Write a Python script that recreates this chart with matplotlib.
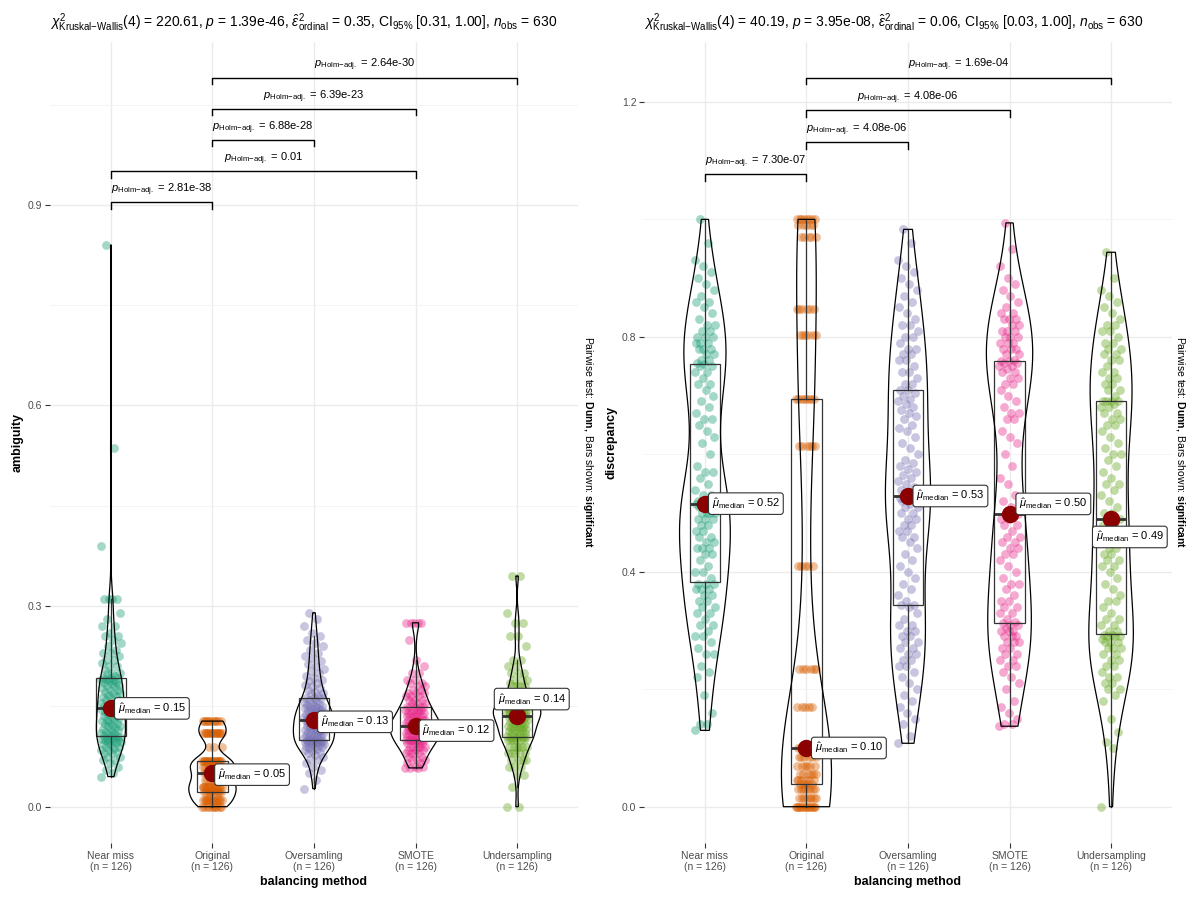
import numpy as np
import matplotlib
matplotlib.use("Agg")
import matplotlib.pyplot as plt
from matplotlib.ticker import AutoMinorLocator

plt.rcParams["font.family"] = "Liberation Sans"
plt.rcParams["mathtext.fontset"] = "custom"
plt.rcParams["mathtext.rm"] = "Liberation Sans"
plt.rcParams["mathtext.it"] = "Liberation Sans:italic"
plt.rcParams["mathtext.bf"] = "Liberation Sans:bold"

methods = ["Near miss", "Original", "Oversamling", "SMOTE", "Undersampling"]
colors = ["#1B9E77", "#D95F02", "#7570B3", "#E7298A", "#66A61E"]

# ---- ambiguity (left panel) ----
amb_nearmiss = [
    0.045, 0.05, 0.055, 0.06, 0.065, 0.07, 0.07, 0.075, 0.075, 0.08, 0.08, 0.082, 0.085, 0.085, 0.088, 0.09,
    0.09, 0.092, 0.094, 0.095, 0.096, 0.097, 0.098, 0.099, 0.1, 0.1, 0.101, 0.102, 0.103, 0.104, 0.105, 0.105,
    0.106, 0.108, 0.11, 0.11, 0.112, 0.114, 0.115, 0.116, 0.118, 0.12, 0.12, 0.122, 0.124, 0.125, 0.126, 0.128,
    0.13, 0.13, 0.132, 0.134, 0.135, 0.136, 0.138, 0.14, 0.14, 0.142, 0.143, 0.144, 0.145, 0.146, 0.147,
    0.147, 0.148, 0.15, 0.152, 0.154, 0.155, 0.157, 0.16, 0.16, 0.162, 0.164, 0.165, 0.167, 0.17, 0.17, 0.172,
    0.174, 0.175, 0.177, 0.18, 0.18, 0.182, 0.184, 0.185, 0.186, 0.188, 0.19, 0.19, 0.191, 0.192, 0.193,
    0.193, 0.195, 0.198, 0.2, 0.2, 0.205, 0.21, 0.21, 0.215, 0.22, 0.22, 0.225, 0.23, 0.23, 0.235, 0.24,
    0.245, 0.25, 0.255, 0.255, 0.26, 0.27, 0.27, 0.28, 0.29, 0.31, 0.31, 0.31, 0.31, 0.39, 0.537, 0.84]
amb_original = [
    0.0, 0.0, 0.0, 0.0, 0.0, 0.0, 0.0, 0.0, 0.0, 0.0,
    0.01, 0.01, 0.01, 0.01, 0.01, 0.01, 0.01, 0.01, 0.01, 0.01, 0.01, 0.01, 0.01, 0.01,
    0.022, 0.022, 0.022, 0.022, 0.022, 0.022, 0.022, 0.022, 0.022, 0.022,
    0.03, 0.03, 0.03, 0.03, 0.03, 0.03, 0.03, 0.03, 0.03, 0.03, 0.03, 0.03, 0.03, 0.03, 0.03, 0.03,
    0.04, 0.04, 0.04, 0.04, 0.04, 0.04, 0.04, 0.04,
    0.05, 0.05, 0.05, 0.05, 0.05, 0.05, 0.05, 0.05, 0.05, 0.05,
    0.06, 0.06, 0.06, 0.06, 0.06, 0.06, 0.06, 0.06, 0.06, 0.06,
    0.068, 0.068, 0.068, 0.068, 0.068, 0.068, 0.068, 0.068, 0.068, 0.068, 0.068, 0.068, 0.068, 0.068,
    0.068, 0.068, 0.068, 0.068,
    0.09, 0.09, 0.09,
    0.11, 0.11, 0.11, 0.11, 0.11, 0.11, 0.11, 0.11, 0.11, 0.11, 0.11, 0.11, 0.11, 0.11, 0.11, 0.11,
    0.128, 0.128, 0.128, 0.128, 0.128, 0.128, 0.128, 0.128, 0.128, 0.128, 0.128]
amb_oversampling = [
    0.027, 0.04, 0.05, 0.055, 0.06, 0.065, 0.07, 0.072, 0.075, 0.078, 0.08, 0.082, 0.084, 0.085, 0.086, 0.088,
    0.09, 0.09, 0.091, 0.092, 0.093, 0.094, 0.095, 0.095, 0.096, 0.096, 0.097, 0.097, 0.098, 0.098, 0.099, 0.099,
    0.1, 0.101, 0.102, 0.103, 0.104, 0.105, 0.106, 0.107, 0.108, 0.109, 0.11, 0.111, 0.112, 0.113, 0.114, 0.115,
    0.116, 0.117, 0.118, 0.119, 0.12, 0.121, 0.122, 0.123, 0.124, 0.125, 0.126, 0.127, 0.128, 0.129, 0.129,
    0.129, 0.13, 0.131, 0.132, 0.133, 0.134, 0.135, 0.136, 0.137, 0.138, 0.139, 0.14, 0.141, 0.142, 0.143, 0.144,
    0.145, 0.146, 0.147, 0.148, 0.149, 0.15, 0.151, 0.152, 0.154, 0.155, 0.157, 0.158, 0.16, 0.162, 0.163,
    0.163, 0.165, 0.168, 0.17, 0.172, 0.175, 0.178, 0.18, 0.182, 0.185, 0.188, 0.19, 0.193, 0.196, 0.2, 0.203,
    0.206, 0.21, 0.214, 0.218, 0.222, 0.226, 0.23, 0.235, 0.24, 0.245, 0.25, 0.255, 0.26, 0.27, 0.28, 0.29]
amb_smote = [
    0.058, 0.058, 0.058, 0.06, 0.06, 0.065, 0.065, 0.07, 0.07, 0.07, 0.075, 0.075, 0.08, 0.08, 0.08, 0.08,
    0.085, 0.085, 0.085, 0.09, 0.09, 0.09, 0.09, 0.09, 0.095, 0.095, 0.095, 0.095, 0.099, 0.099, 0.099, 0.099,
    0.1, 0.1, 0.1, 0.1, 0.1, 0.105, 0.105, 0.105, 0.105, 0.105, 0.11, 0.11, 0.11, 0.11, 0.11, 0.11,
    0.115, 0.115, 0.115, 0.115, 0.115, 0.115, 0.12, 0.12, 0.12, 0.12, 0.12, 0.12, 0.12, 0.12, 0.12,
    0.12, 0.12, 0.12, 0.125, 0.125, 0.125, 0.125, 0.125, 0.13, 0.13, 0.13, 0.13, 0.13, 0.13,
    0.135, 0.135, 0.135, 0.135, 0.135, 0.14, 0.14, 0.14, 0.14, 0.14, 0.145, 0.145, 0.145, 0.145, 0.149, 0.149, 0.149,
    0.149, 0.149, 0.155, 0.155, 0.155, 0.16, 0.16, 0.16, 0.165, 0.165, 0.165, 0.17, 0.17, 0.17, 0.175, 0.175,
    0.18, 0.18, 0.185, 0.185, 0.19, 0.19, 0.2, 0.2, 0.21, 0.22, 0.25, 0.275, 0.275, 0.275, 0.275, 0.275]
amb_undersampling = [
    0.0, 0.0, 0.03, 0.047, 0.047, 0.06, 0.06, 0.06, 0.07, 0.07, 0.07, 0.07, 0.08, 0.08, 0.08, 0.08, 0.08,
    0.09, 0.09, 0.09, 0.09, 0.09, 0.09, 0.1, 0.1, 0.1, 0.1, 0.1, 0.1, 0.104, 0.104, 0.104, 0.104, 0.104,
    0.106, 0.108, 0.11, 0.11, 0.112, 0.113, 0.114, 0.115, 0.116, 0.117, 0.118, 0.119, 0.12, 0.121, 0.122,
    0.123, 0.124, 0.125, 0.126, 0.127, 0.128, 0.129, 0.13, 0.131, 0.132, 0.133, 0.134, 0.135, 0.136,
    0.136, 0.137, 0.138, 0.138, 0.139, 0.14, 0.14, 0.141, 0.142, 0.142, 0.143, 0.144, 0.144, 0.145, 0.146,
    0.146, 0.147, 0.148, 0.148, 0.149, 0.15, 0.15, 0.151, 0.152, 0.152, 0.153, 0.153, 0.154, 0.154, 0.155,
    0.155, 0.155,
    0.16, 0.16, 0.16, 0.165, 0.17, 0.17, 0.17, 0.17, 0.18, 0.18, 0.18, 0.18, 0.185, 0.19, 0.19, 0.19,
    0.2, 0.2, 0.2, 0.21, 0.21, 0.22, 0.22, 0.24, 0.255, 0.255, 0.275, 0.275, 0.29, 0.345, 0.345]

# ---- discrepancy (right panel) ----
dis_nearmiss = [
    0.13, 0.14, 0.14, 0.16, 0.19, 0.22, 0.23, 0.24, 0.26, 0.26, 0.27, 0.28, 0.29, 0.29, 0.3, 0.31,
    0.31, 0.32, 0.33, 0.33, 0.34, 0.34, 0.35, 0.35, 0.36, 0.36, 0.37, 0.37, 0.37, 0.38, 0.38, 0.38,
    0.39, 0.4, 0.4, 0.41, 0.42, 0.43, 0.43, 0.44, 0.44, 0.44, 0.45, 0.45, 0.46, 0.46, 0.47, 0.47,
    0.48, 0.48, 0.49, 0.49, 0.49, 0.5, 0.5, 0.5, 0.5, 0.51, 0.51, 0.51, 0.515, 0.515, 0.516,
    0.516, 0.52, 0.52, 0.53, 0.53, 0.54, 0.55, 0.56, 0.57, 0.57, 0.58, 0.6, 0.62, 0.63, 0.64, 0.65,
    0.66, 0.66, 0.67, 0.68, 0.69, 0.7, 0.71, 0.72, 0.72, 0.73, 0.74, 0.74, 0.75, 0.75, 0.753,
    0.755, 0.76, 0.76, 0.77, 0.77, 0.78, 0.78, 0.78, 0.79, 0.79, 0.79, 0.8, 0.8, 0.8, 0.81, 0.81,
    0.82, 0.82, 0.83, 0.84, 0.85, 0.86, 0.86, 0.87, 0.88, 0.89, 0.9, 0.91, 0.92, 0.93, 0.96, 1.0]
dis_original = [
    0.0, 0.0, 0.0, 0.0, 0.0, 0.0, 0.0, 0.0, 0.0, 0.0, 0.0, 0.0, 0.0, 0.0,
    0.015, 0.015, 0.015, 0.015, 0.015, 0.015, 0.015, 0.015,
    0.03, 0.03, 0.03, 0.03, 0.03, 0.03, 0.03, 0.03, 0.038, 0.038, 0.038, 0.038,
    0.045, 0.045, 0.045, 0.045, 0.045, 0.045, 0.055, 0.055, 0.055, 0.055, 0.055, 0.055,
    0.07, 0.07, 0.07, 0.07, 0.07, 0.07, 0.085, 0.085, 0.085, 0.085, 0.085, 0.085,
    0.1, 0.1, 0.1, 0.1, 0.1, 0.1, 0.1, 0.1,
    0.17, 0.17, 0.17, 0.17, 0.17, 0.235, 0.235, 0.235, 0.235, 0.235, 0.235,
    0.41, 0.41, 0.41, 0.41, 0.41, 0.614, 0.614, 0.614, 0.614, 0.614, 0.614,
    0.695, 0.695, 0.695, 0.695, 0.695, 0.695, 0.695, 0.695,
    0.803, 0.803, 0.803, 0.803, 0.803, 0.803, 0.847, 0.847, 0.847, 0.847, 0.847, 0.847,
    0.97, 0.97, 0.97, 0.97, 0.97, 0.99, 0.99, 0.99, 0.99, 0.99,
    1.0, 1.0, 1.0, 1.0, 1.0, 1.0, 1.0, 1.0]
dis_oversampling = [
    0.108, 0.12, 0.14, 0.15, 0.16, 0.17, 0.18, 0.19, 0.2, 0.21, 0.22, 0.23, 0.24, 0.24, 0.25, 0.25,
    0.26, 0.26, 0.27, 0.27, 0.28, 0.28, 0.29, 0.29, 0.3, 0.3, 0.31, 0.31, 0.32, 0.33, 0.34, 0.343,
    0.344, 0.35, 0.36, 0.37, 0.38, 0.39, 0.4, 0.41, 0.42, 0.43, 0.44, 0.45, 0.46, 0.46, 0.47, 0.47,
    0.48, 0.48, 0.49, 0.49, 0.5, 0.5, 0.51, 0.51, 0.515, 0.52, 0.52, 0.525, 0.525, 0.529, 0.529,
    0.529, 0.535, 0.54, 0.545, 0.55, 0.555, 0.56, 0.565, 0.57, 0.575, 0.58, 0.585, 0.59, 0.6, 0.61, 0.62,
    0.63, 0.64, 0.645, 0.65, 0.66, 0.665, 0.67, 0.675, 0.68, 0.685, 0.69, 0.695, 0.7, 0.705, 0.709,
    0.71, 0.72, 0.72, 0.73, 0.74, 0.74, 0.75, 0.76, 0.76, 0.77, 0.77, 0.78, 0.78, 0.79, 0.8, 0.8,
    0.81, 0.82, 0.82, 0.83, 0.84, 0.85, 0.86, 0.87, 0.88, 0.89, 0.9, 0.91, 0.92, 0.93, 0.96, 0.983]
dis_smote = [
    0.137, 0.14, 0.14, 0.15, 0.16, 0.17, 0.18, 0.2, 0.21, 0.22, 0.23, 0.24, 0.24, 0.25, 0.25, 0.26,
    0.26, 0.27, 0.27, 0.28, 0.28, 0.28, 0.29, 0.29, 0.29, 0.3, 0.3, 0.3, 0.305, 0.31, 0.31, 0.312,
    0.315, 0.32, 0.33, 0.33, 0.34, 0.34, 0.35, 0.35, 0.36, 0.37, 0.38, 0.38, 0.39, 0.4, 0.41, 0.42,
    0.43, 0.43, 0.44, 0.44, 0.45, 0.45, 0.46, 0.46, 0.47, 0.48, 0.48, 0.49, 0.49, 0.495, 0.499,
    0.499, 0.51, 0.52, 0.53, 0.55, 0.56, 0.58, 0.6, 0.62, 0.63, 0.64, 0.66, 0.66, 0.67, 0.67, 0.68,
    0.69, 0.7, 0.71, 0.72, 0.72, 0.73, 0.73, 0.74, 0.74, 0.745, 0.75, 0.75, 0.755, 0.755, 0.759,
    0.759, 0.76, 0.77, 0.77, 0.78, 0.78, 0.78, 0.79, 0.79, 0.79, 0.8, 0.8, 0.8, 0.81, 0.81, 0.81,
    0.82, 0.82, 0.83, 0.83, 0.83, 0.84, 0.84, 0.85, 0.86, 0.87, 0.88, 0.89, 0.9, 0.92, 0.95, 0.994]
dis_undersampling = [
    0.0, 0.1, 0.11, 0.127, 0.15, 0.18, 0.19, 0.2, 0.2, 0.21, 0.21, 0.22, 0.22, 0.23, 0.24, 0.24,
    0.25, 0.25, 0.26, 0.26, 0.27, 0.27, 0.27, 0.28, 0.28, 0.28, 0.285, 0.29, 0.29, 0.29, 0.293, 0.293,
    0.3, 0.3, 0.31, 0.31, 0.32, 0.32, 0.33, 0.34, 0.35, 0.35, 0.36, 0.37, 0.38, 0.39, 0.4, 0.41,
    0.41, 0.42, 0.42, 0.43, 0.43, 0.44, 0.44, 0.45, 0.46, 0.46, 0.47, 0.47, 0.48, 0.485, 0.49,
    0.49, 0.5, 0.5, 0.51, 0.52, 0.53, 0.54, 0.55, 0.55, 0.56, 0.57, 0.58, 0.59, 0.6, 0.6, 0.61,
    0.62, 0.63, 0.64, 0.65, 0.65, 0.66, 0.66, 0.67, 0.67, 0.68, 0.68, 0.685, 0.69, 0.69, 0.691,
    0.691, 0.7, 0.71, 0.71, 0.72, 0.72, 0.73, 0.73, 0.74, 0.74, 0.75, 0.76, 0.76, 0.77, 0.77, 0.78,
    0.78, 0.79, 0.79, 0.8, 0.81, 0.81, 0.82, 0.82, 0.83, 0.84, 0.85, 0.86, 0.87, 0.88, 0.9, 0.944]

ambiguity = [amb_nearmiss, amb_original, amb_oversampling, amb_smote, amb_undersampling]
discrepancy = [dis_nearmiss, dis_original, dis_oversampling, dis_smote, dis_undersampling]

amb_title = (r"$\chi^2_{\mathrm{Kruskal{-}Wallis}}$(4) = 220.61, $p$ = 1.39e-46, "
             r"$\hat{\varepsilon}^2_{\mathrm{ordinal}}$ = 0.35, CI$_{95\%}$ [0.31, 1.00], $n_{\mathrm{obs}}$ = 630")
dis_title = (r"$\chi^2_{\mathrm{Kruskal{-}Wallis}}$(4) = 40.19, $p$ = 3.95e-08, "
             r"$\hat{\varepsilon}^2_{\mathrm{ordinal}}$ = 0.06, CI$_{95\%}$ [0.03, 1.00], $n_{\mathrm{obs}}$ = 630")

# pairwise comparisons shown, bottom to top
amb_pairs = [(0, 1), (0, 3), (1, 2), (1, 3), (1, 4)]
amb_pvals = ["2.81e-38", "0.01", "6.88e-28", "6.39e-23", "2.64e-30"]
dis_pairs = [(0, 1), (1, 2), (1, 3), (1, 4)]
dis_pvals = ["7.30e-07", "4.08e-06", "4.08e-06", "1.69e-04"]


def kde(vals, grid):
    v = np.asarray(vals, dtype=float)
    n = len(v)
    q75, q25 = np.percentile(v, [75, 25])
    bw = 0.9 * min(v.std(ddof=1), (q75 - q25) / 1.34) * n ** -0.2
    z = (grid[:, None] - v[None, :]) / bw
    return np.exp(-0.5 * z ** 2).sum(axis=1) / (n * bw * np.sqrt(2 * np.pi))


def draw_panel(ax, groups, ylabel, title, pairs, pvals, ylim, yticks,
               br_start, br_step, label_offsets):
    pos = np.arange(1, len(groups) + 1)

    # jittered points
    for i, vals in enumerate(groups):
        n = len(vals)
        jit = ((np.arange(n) * 0.618034) % 1.0 - 0.5) * 0.2
        ax.scatter(pos[i] + jit, vals, s=40, color=colors[i], alpha=0.4,
                   linewidths=0, zorder=2)

    # boxplots
    ax.boxplot(groups, positions=pos, widths=0.3, showfliers=False, showcaps=False,
               patch_artist=True, manage_ticks=False, zorder=3,
               boxprops=dict(facecolor="none", edgecolor="#333333", linewidth=0.9),
               whiskerprops=dict(color="#333333", linewidth=0.9),
               medianprops=dict(color="#333333", linewidth=2.0))

    # violins (area scaled, trimmed)
    dens = []
    for vals in groups:
        grid = np.linspace(min(vals), max(vals), 512)
        dens.append((grid, kde(vals, grid)))
    dmax = max(d.max() for _, d in dens)
    for i, (grid, d) in enumerate(dens):
        hw = 0.25 * d / dmax
        xs = np.concatenate([pos[i] - hw, (pos[i] + hw)[::-1]])
        ys = np.concatenate([grid, grid[::-1]])
        ax.fill(xs, ys, facecolor="none", edgecolor="black", linewidth=0.9, zorder=4)

    # medians with labels
    for i, vals in enumerate(groups):
        med = np.median(vals)
        ax.plot(pos[i], med, "o", color="#8B0000", markersize=11.5, zorder=5)
        dx, dy = label_offsets[i]
        ax.annotate(r"$\hat{\mu}_{\mathrm{median}}$ = %.2f" % med, (pos[i], med),
                    xytext=(dx, dy), textcoords="offset points", ha="left", va="center",
                    fontsize=8, zorder=6,
                    bbox=dict(boxstyle="round,pad=0.3,rounding_size=0.25", facecolor="white",
                              edgecolor="#333333", linewidth=0.8))

    # significance brackets
    span = ylim[1] - ylim[0]
    tip = 0.0084 * span
    for k, ((a, b), p) in enumerate(zip(pairs, pvals)):
        y = br_start + k * br_step
        ax.plot([pos[a], pos[a], pos[b], pos[b]], [y - tip, y, y, y - tip],
                color="black", linewidth=1.0, zorder=6, clip_on=False)
        ax.annotate(r"$p_{\mathrm{Holm{-}adj.}}$ = " + p, ((pos[a] + pos[b]) / 2, y),
                    xytext=(0, 3), textcoords="offset points", ha="center", va="bottom",
                    fontsize=8)

    ax.set_xlim(0.4, len(groups) + 0.6)
    ax.set_ylim(*ylim)
    ax.set_xticks(pos)
    ax.set_xticklabels(["%s\n(n = %d)" % (m, len(v)) for m, v in zip(methods, groups)])
    ax.set_yticks(yticks)
    ax.set_yticklabels(["%.1f" % t for t in yticks])
    ax.yaxis.set_minor_locator(AutoMinorLocator(2))
    ax.grid(True, which="major", color="#EBEBEB", linewidth=1.0)
    ax.grid(True, which="minor", axis="y", color="#F3F3F3", linewidth=0.6)
    ax.set_axisbelow(True)
    for s in ax.spines.values():
        s.set_visible(False)
    ax.tick_params(which="major", length=3.5, width=0.8, color="#333333",
                   labelcolor="#4D4D4D", labelsize=7.5, pad=2)
    ax.tick_params(which="minor", length=0)
    ax.set_xlabel("balancing method", fontweight="bold", fontsize=9, labelpad=3)
    ax.set_ylabel(ylabel, fontweight="bold", fontsize=9, labelpad=3)
    ax.set_title(title, loc="left", fontsize=10, pad=11)


fig = plt.figure(figsize=(12, 9), dpi=100)
ax1 = fig.add_axes([50 / 1200, 57 / 900, 528 / 1200, 801 / 900])
ax2 = fig.add_axes([644 / 1200, 57 / 900, 528 / 1200, 801 / 900])

draw_panel(ax1, ambiguity, "ambiguity", amb_title, amb_pairs, amb_pvals,
           (-0.0543, 1.1435), [0.0, 0.3, 0.6, 0.9], 0.9043, 0.0465,
           [(5, 0), (4, -1), (5, -1), (5, -3), (-14, 12)])
draw_panel(ax2, discrepancy, "discrepancy", dis_title, dis_pairs, dis_pvals,
           (-0.0618, 1.302), [0.0, 0.4, 0.8, 1.2], 1.077, 0.0548,
           [(5, 0), (6, 0), (6, 0), (7, 7), (-11, -13)])

caption = r"Pairwise test: $\mathbf{Dunn,}$ Bars shown: $\mathbf{significant}$"
fig.text(588 / 1200, 1 - 442 / 900, caption, rotation=270, ha="center", va="center", fontsize=7.5)
fig.text(1180 / 1200, 1 - 442 / 900, caption, rotation=270, ha="center", va="center", fontsize=7.5)

fig.savefig("out.png", dpi=100)
